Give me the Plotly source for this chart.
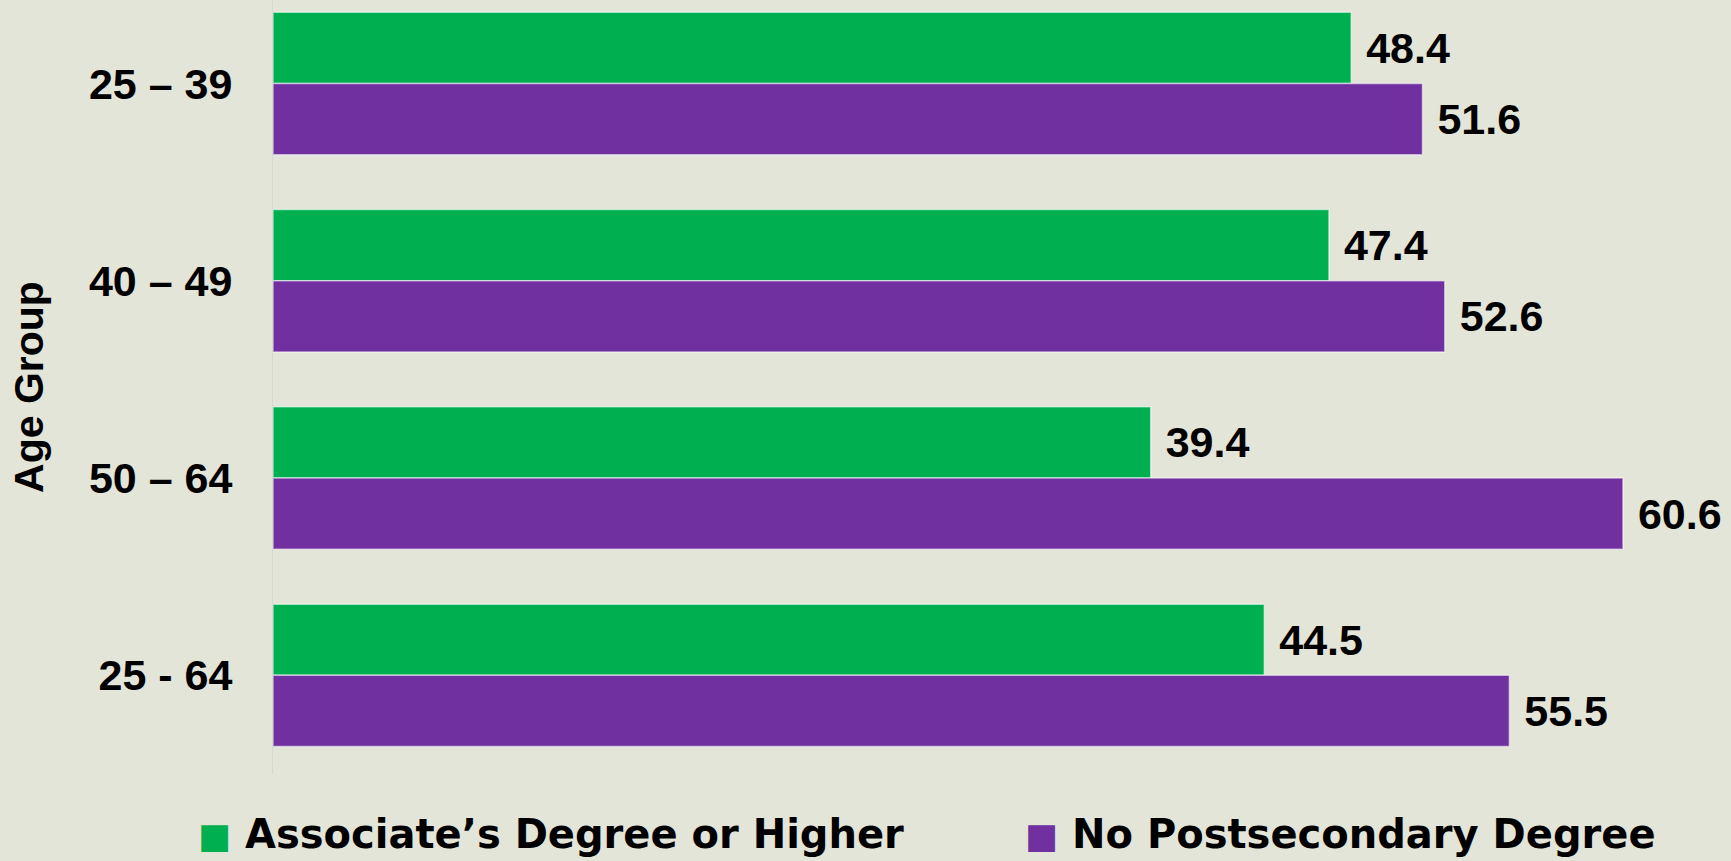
import plotly.graph_objects as go

# ── data ──────────────────────────────────────────────────────────────────────
age_groups = ["25 – 39", "40 – 49", "50 – 64", "25 - 64"]
associate = [48.4, 47.4, 39.4, 44.5]
no_degree = [51.6, 52.6, 60.6, 55.5]
series_names = ["Associate’s Degree or Higher", "No Postsecondary Degree"]

# ── style ─────────────────────────────────────────────────────────────────────
GREEN = "#00B050"
PURPLE = "#7030A0"
BG = "#E3E5D9"
LABEL_FONT = dict(family="Liberation Sans, Arial, sans-serif", size=41,
                  color="#000000", weight="bold")
TICK_FONT = dict(LABEL_FONT, size=43)
VALUE_FONT = dict(LABEL_FONT, size=43)
LEGEND_FONT = dict(family="DejaVu Sans, sans-serif", size=40,
                   color="#000000", weight="bold")

fig = go.Figure()
for name, vals, col in [(series_names[0], associate, GREEN),
                        (series_names[1], no_degree, PURPLE)]:
    fig.add_trace(go.Bar(
        name=name, x=vals, y=age_groups, orientation="h",
        marker=dict(color=col, line=dict(color="rgba(255,255,255,0.55)", width=1.5)),
        text=vals, texttemplate="\u00a0%{x:.1f}",
        textposition="outside", textfont=VALUE_FONT,
        cliponaxis=False, showlegend=False,
    ))

# legend drawn as annotations so the swatches can be large
legend_x = [-0.053, 0.518]
for name, col, lx in zip(series_names, [GREEN, PURPLE], legend_x):
    fig.add_annotation(
        xref="paper", yref="paper", x=lx, y=-0.078,
        xanchor="left", yanchor="middle", showarrow=False,
        text=f"<span style='color:{col};font-size:35px'>■</span> {name}",
        font=LEGEND_FONT,
    )

fig.update_layout(
    width=1731, height=861,
    paper_bgcolor=BG, plot_bgcolor=BG,
    margin=dict(l=273, r=10, t=0, b=87),
    barmode="group", bargap=0.278, bargroupgap=0,
    xaxis=dict(range=[0, 65], visible=False),
    yaxis=dict(
        type="category", range=[3.5, -0.423],
        showgrid=False, zeroline=False, ticks="",
        showline=True, linecolor="#D5D9D3", linewidth=1,
        tickfont=TICK_FONT, ticklabelstandoff=31,
        title=dict(text="Age Group", font=LABEL_FONT, standoff=32),
    ),
)

fig.write_html("out.html", config={"displayModeBar": False},
               post_script="document.body.style.margin='0';"
                           "document.body.style.background='%s';" % BG)
